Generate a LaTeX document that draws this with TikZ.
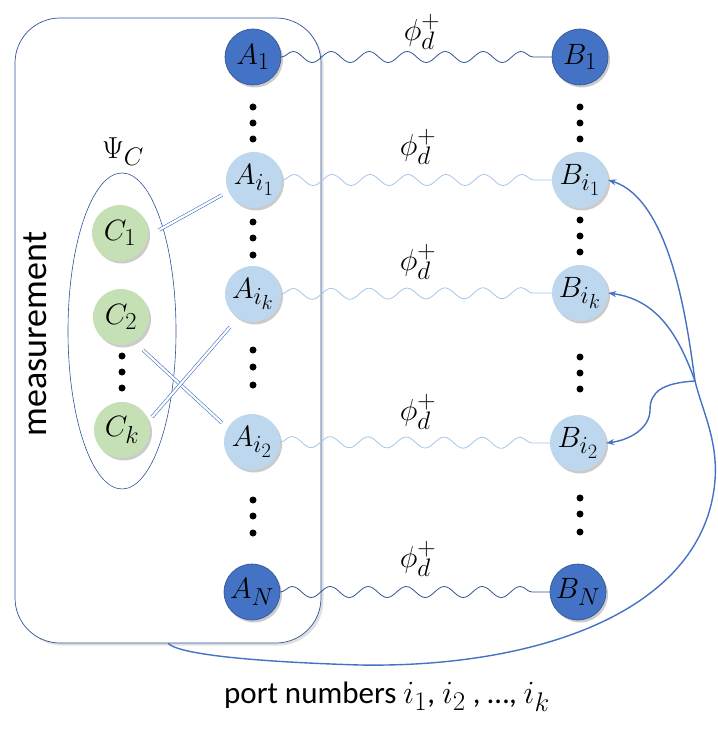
\RequirePackage{fix-cm}
\documentclass[tikz,border=0pt]{standalone}
\usepackage{fontspec}
\setmainfont{Carlito}
\usetikzlibrary{shadows,decorations.pathmorphing,arrows.meta,shapes.geometric,calc}
\newcommand\qmath[2][1.18]{\scalebox{#1}{\Huge$#2$}}
\definecolor{darkfill}{HTML}{4472C4}
\definecolor{darkline}{HTML}{2F528F}
\definecolor{lightfill}{HTML}{BDD7EE}
\definecolor{greenfill}{HTML}{C5E0B4}
\definecolor{framecol}{HTML}{2F5597}
\definecolor{wavelight}{HTML}{A6C6E8}
\definecolor{arrowblue}{HTML}{4472C4}
\tikzset{
  qnode/.style={circle, minimum size=56pt, inner sep=0pt,
    drop shadow={shadow xshift=2pt, shadow yshift=-2.5pt, fill=black!45, opacity=0.45}},
  darknode/.style={qnode, fill=darkfill, draw=darkline, line width=0.6pt},
  lightnode/.style={qnode, fill=lightfill},
  greennode/.style={qnode, fill=greenfill},
  dotmark/.style={circle, fill=black, inner sep=0pt, minimum size=7pt},
  wave/.style={decorate, decoration={snake, segment length=38pt, amplitude=5.5pt}, line width=0.8pt},
  darkwave/.style={wave, draw=framecol},
  lightwave/.style={wave, draw=wavelight},
  dbl/.style={draw=arrowblue, line width=0.6pt, double=white, double distance=2.2pt},
  conn/.style={draw=arrowblue, line width=1.4pt},
  tip/.style={-{Stealth[length=8pt,width=6pt]}},
  philab/.style={inner sep=1pt},
}
\begin{document}
\begin{tikzpicture}[x=1pt,y=-1pt]
\useasboundingbox (0,0) rectangle (717,735);
% measurement box
\node[draw=framecol, line width=0.7pt, rounded corners=45pt, minimum width=306pt, minimum height=625pt, fill=white,
  drop shadow={shadow xshift=2.5pt, shadow yshift=-2.5pt, fill=black!12, opacity=1}] (box) at (168,330.5) {};
\node[rotate=90, font=\fontsize{36}{40}\selectfont] (meas) at (35,334) {measurement};
% ellipse Psi_C
\node[draw=framecol, line width=0.6pt, ellipse, minimum width=108pt, minimum height=316pt, inner sep=0pt] (psi) at (122,331) {};
\node (psilab) at (123,152) {\qmath[1.22]{\Psi_C}};
% A column
\node[darknode] (a1) at (253,57) {\qmath{A_1}};
\node[lightnode] (ai1) at (254,180) {\qmath{A_{i_1}}};
\node[lightnode] (aik) at (253,294) {\qmath{A_{i_k}}};
\node[lightnode] (ai2) at (252,442) {\qmath{A_{i_2}}};
\node[darknode] (aN) at (252,592) {\qmath{A_N}};
% B column
\node[darknode] (b1) at (580,57) {\qmath{B_1}};
\node[lightnode] (bi1) at (580,180) {\qmath{B_{i_1}}};
\node[lightnode] (bik) at (580,293) {\qmath{B_{i_k}}};
\node[lightnode] (bi2) at (578,443) {\qmath{B_{i_2}}};
\node[darknode] (bN) at (578,592) {\qmath{B_N}};
% C column
\node[greennode] (c1) at (120,233) {\qmath{C_1}};
\node[greennode] (c2) at (121,317) {\qmath{C_2}};
\node[greennode] (ck) at (122,430) {\qmath{C_k}};
% dots
\foreach \y [count=\i] in {107,123,139,222,238,255,350,367,385,500,516,533}
  \node[dotmark] (da\i) at (253,\y) {};
\foreach \y [count=\i] in {107,123,139,220,236,252,357,373,389,498,514,532}
  \node[dotmark] (db\i) at (580,\y) {};
\foreach \y [count=\i] in {356,372,388}
  \node[dotmark] (dc\i) at (122,\y) {};
% waves
\draw[darkwave] (a1.east) -- (b1.west);
\draw[lightwave] (ai1.east) -- (bi1.west);
\draw[lightwave] (aik.east) -- (bik.west);
\draw[lightwave] (ai2.east) -- (bi2.west);
\draw[darkwave] (aN.east) -- (bN.west);
% phi labels
\node[philab] (p1) at (422,32) {\qmath[1.22]{\phi_d^+}};
\node[philab] (p2) at (418,147) {\qmath[1.22]{\phi_d^+}};
\node[philab] (p3) at (418,262) {\qmath[1.22]{\phi_d^+}};
\node[philab] (p4) at (418,412) {\qmath[1.22]{\phi_d^+}};
\node[philab] (p5) at (418,559) {\qmath[1.22]{\phi_d^+}};
% double lines (classical correlations)
\draw[dbl] ($(c1)+(39,-3)$) -- ($(ai1)+(-32,15)$);
\draw[dbl] ($(c2)+(22,33)$) -- ($(ai2)+(-30,-19)$);
\draw[dbl] ($(ck)+(30,-13)$) -- ($(aik)+(-23,33)$);
% feed-forward arrows
\coordinate (jn) at (695,381);
\draw[conn] (box.south) .. controls (180,655) and (260,662) .. (360,665)
  .. controls (540,668) and (705,610) .. (715,480)
  .. controls (718,440) and (702,410) .. (jn);
\draw[conn,tip] (jn) .. controls (688,330) and (672,200) .. (bi1.east);
\draw[conn,tip] (jn) .. controls (680,340) and (660,300) .. (bik.east);
\draw[conn,tip] (jn) .. controls (662,383) and (650,392) .. (650,410)
  .. controls (650,428) and (630,440) .. (bi2.east);
% port numbers
\node[font=\fontsize{31}{36}\selectfont] (ports) at (387,697) {port numbers \qmath[1.3]{i_1}, \qmath[1.3]{i_2} , \dots , \qmath[1.3]{i_k}};
\end{tikzpicture}
\end{document}
